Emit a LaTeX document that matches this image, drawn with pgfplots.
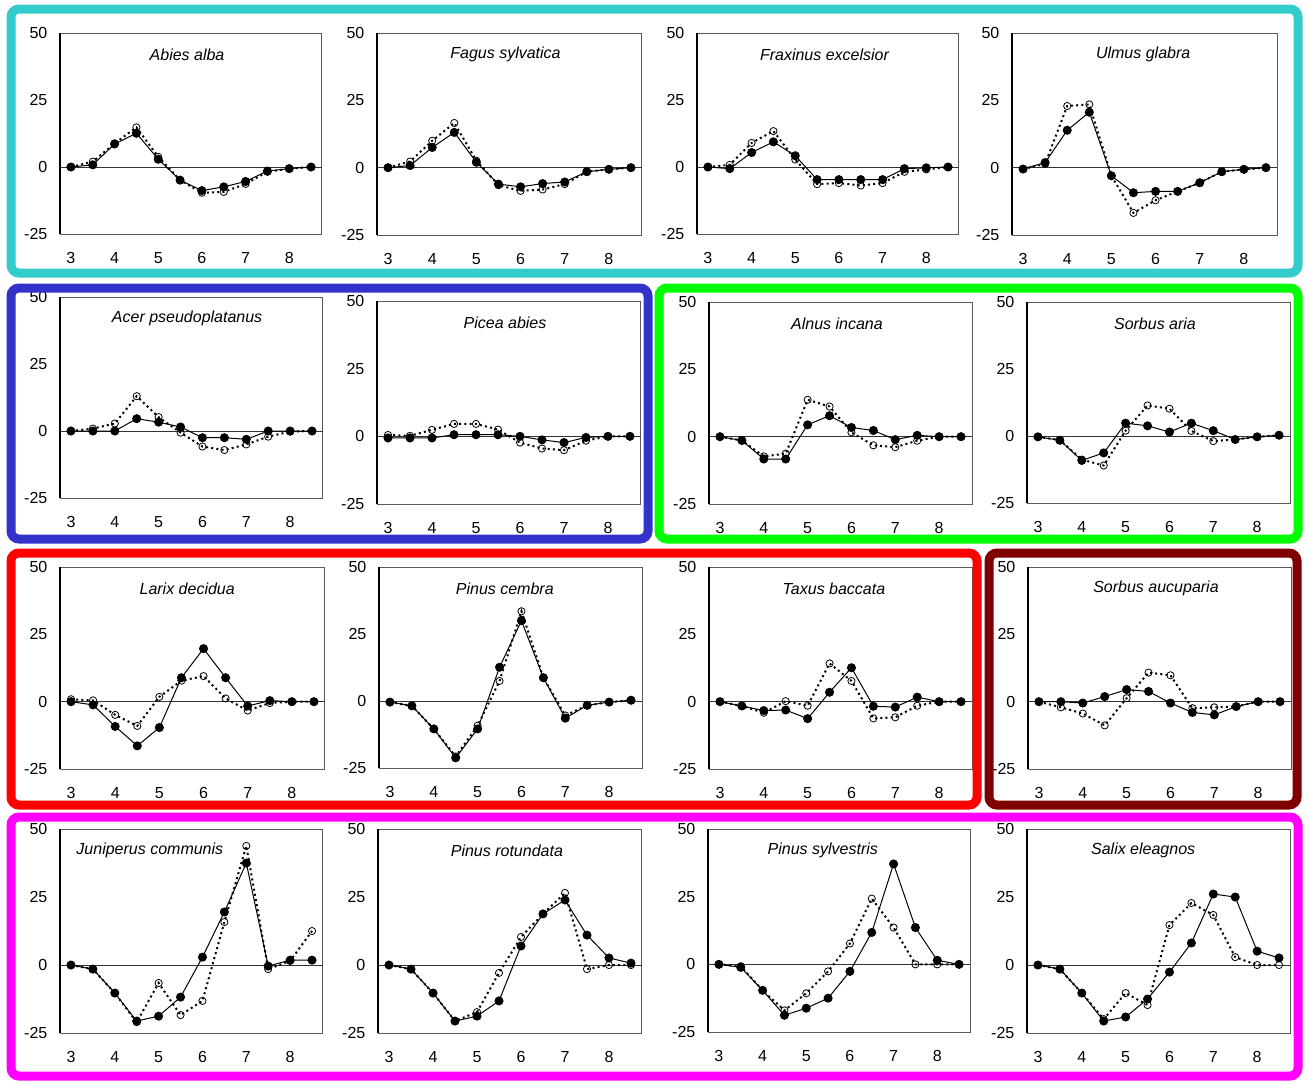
\documentclass[border=0pt]{standalone}
\usepackage{pgfplots}
\pgfplotsset{compat=1.18}
\usepackage{pgfplotstable}
\usepackage{fontspec}
\setmainfont{Liberation Sans}
\definecolor{cyanbox}{RGB}{51,204,204}
\definecolor{bluebox}{RGB}{51,51,204}
\definecolor{greenbox}{RGB}{0,255,0}
\definecolor{redbox}{RGB}{255,0,0}
\definecolor{darkredbox}{RGB}{128,0,0}
\definecolor{magentabox}{RGB}{255,0,255}

\pgfplotstableread{
x f o
3 0 0
3.5 0.8 2
4 8.6 8.8
4.5 12.6 14.8
5 2.9 3.8
5.5 -4.9 -4.9
6 -8.8 -9.6
6.5 -7.4 -9.3
7 -5.4 -6.3
7.5 -1.5 -1.8
8 -0.6 -0.6
8.5 0 0
}\tAbies
\pgfplotstableread{
x f o
3 0 0
3.5 0.8 2.3
4 7.5 10
4.5 13.1 16.6
5 2 2.6
5.5 -6.1 -6.5
6 -7.1 -8.6
6.5 -5.9 -8.1
7 -5.3 -6.1
7.5 -1.5 -1.5
8 -0.6 -0.6
8.5 0 0
}\tFagus
\pgfplotstableread{
x f o
3 0 0
3.5 -0.6 0.8
4 5.4 9
4.5 9.4 13.4
5 4.2 2.8
5.5 -4.7 -6.4
6 -4.7 -6
6.5 -4.7 -6.9
7 -4.7 -6
7.5 -0.6 -1.8
8 -0.3 -0.9
8.5 0 0
}\tFraxinus
\pgfplotstableread{
x f o
3 -0.5 -0.5
3.5 1.9 1.4
4 13.9 22.9
4.5 20.6 23.5
5 -3 -3
5.5 -9.3 -16.8
6 -8.8 -12.1
6.5 -8.8 -8.8
7 -5.6 -5.6
7.5 -1.5 -1.5
8 -0.6 -0.6
8.5 0 0
}\tUlmus
\pgfplotstableread{
x f o
3 0 0
3.5 0 0.9
4 0 2.8
4.5 4.6 13
5 3.3 5.2
5.5 1.5 -0.6
6 -2.5 -5.8
6.5 -2.5 -7.1
7 -3.1 -5
7.5 0 -2.1
8 0 -0.2
8.5 0 0
}\tAcer
\pgfplotstableread{
x f o
3 -0.6 0.5
3.5 -0.6 0.2
4 -0.6 2.4
4.5 0.6 4.6
5 0.6 4.6
5.5 0.6 2.5
6 0 -2.3
6.5 -1.3 -4.5
7 -2.3 -5.1
7.5 -0.4 -1.6
8 0 0
8.5 0 0
}\tPicea
\pgfplotstableread{
x f o
3 0 0
3.5 -1.4 -1.4
4 -8.3 -7.3
4.5 -8.3 -6.3
5 4.4 13.7
5.5 7.8 11.2
6 3.4 1.6
6.5 2.3 -3.2
7 -1.1 -3.9
7.5 0.5 -1.5
8 0 0
8.5 0 0
}\tAlnus
\pgfplotstableread{
x f o
3 -0.3 -0.3
3.5 -1.6 -1.5
4 -9.1 -8.8
4.5 -6.3 -11
5 4.8 2
5.5 3.8 11.4
6 1.5 10.2
6.5 4.8 1.9
7 2 -1.9
7.5 -1.3 -1.3
8 -0.3 -0.3
8.5 0.3 0.3
}\tSorbusAria
\pgfplotstableread{
x f o
3 0 0.9
3.5 -1.2 0.5
4 -9.2 -4.9
4.5 -16.4 -9
5 -9.6 1.8
5.5 8.9 7.8
6 19.7 9.5
6.5 8.9 1.2
7 -1.6 -3.3
7.5 0.4 -0.5
8 0 0
8.5 0 0
}\tLarix
\pgfplotstableread{
x f o
3 -0.4 -0.4
3.5 -1.8 -1.8
4 -10.4 -10.4
4.5 -21.2 -20.7
5 -10.4 -9.2
5.5 12.6 7.5
6 30 33.5
6.5 8.7 8.7
7 -6.4 -5.4
7.5 -1.6 -1.6
8 -0.4 -0.4
8.5 0.3 0.3
}\tCembra
\pgfplotstableread{
x f o
3 0 0
3.5 -1.6 -1.6
4 -3.3 -4.1
4.5 -3.1 0.2
5 -6.3 -1.5
5.5 3.5 14.2
6 12.6 7.7
6.5 -1.7 -6.2
7 -2 -5.8
7.5 1.7 -1.5
8 0 0
8.5 0 0
}\tTaxus
\pgfplotstableread{
x f o
3 0 0
3.5 0 -2.1
4 -0.5 -4.4
4.5 1.9 -8.8
5 4.5 1.3
5.5 3.8 10.8
6 -0.5 9.8
6.5 -4 -2.4
7 -4.9 -2.1
7.5 -1.8 -1.8
8 0 0
8.5 0 0
}\tAucuparia
\pgfplotstableread{
x f o
3 0 0
3.5 -1.5 -1.5
4 -10.3 -10.3
4.5 -20.6 -21
5 -18.8 -6.6
5.5 -11.8 -18.4
6 2.9 -13.2
6.5 19.5 15.8
7 37.5 43.8
7.5 -0.4 -1.5
8 1.8 1.5
8.5 1.8 12.5
}\tJuniperus
\pgfplotstableread{
x f o
3 0 0
3.5 -1.5 -1.5
4 -10.3 -10.3
4.5 -20.6 -20.6
5 -18.8 -17.3
5.5 -13.2 -2.9
6 7 10.3
6.5 18.8 18.8
7 23.9 26.5
7.5 11 -1.5
8 2.6 0
8.5 0.7 0
}\tRotundata
\pgfplotstableread{
x f o
3 0 0
3.5 -1.1 -0.7
4 -9.6 -9.6
4.5 -18.8 -17
5 -16.2 -10.7
5.5 -12.5 -2.6
6 -2.6 7.7
6.5 11.8 24.3
7 37.1 13.6
7.5 13.6 0
8 1.5 0
8.5 0 0
}\tSylvestris
\pgfplotstableread{
x f o
3 0 0
3.5 -1.5 -1.5
4 -10.3 -10.3
4.5 -20.6 -19.9
5 -19.1 -10.3
5.5 -12.5 -14.7
6 -2.6 14.7
6.5 8.1 22.8
7 26.1 18.4
7.5 25 2.9
8 5.1 0
8.5 2.6 0
}\tSalix

\pgfplotsset{
  panelstyle/.style={
    scale only axis,
    xmin=2.75, xmax=8.75, ymin=-25, ymax=50,
    xtick={3,4,5,6,7,8}, ytick={-25,0,25,50},
    major tick style={draw=none}, minor tick style={draw=none},
    axis line style={black!65, line width=0.5pt},
    tick label style={font=\fontsize{8}{9.6}\selectfont},
    xticklabel style={yshift=-5.8pt},
    yticklabel style={xshift=-2.8pt},
    /pgf/number format/assume math mode=true,
    clip=false,
  },
  fillser/.style={black, line width=0.5pt, mark=*, mark size=2pt, mark options={solid, fill=black}},
  openser/.style={black, line width=1pt, dash pattern=on 1pt off 1.6pt, mark=o, mark size=1.8pt, mark options={solid, fill=white, line width=0.4pt}},
}

\newcommand{\panel}[7]{%
  \pgfmathsetmacro\pL{#1*0.5}\pgfmathsetmacro\pB{-#4*0.5}%
  \pgfmathsetmacro\pW{(#3-#1)*0.5}\pgfmathsetmacro\pH{(#4-#2)*0.5}%
  \begin{axis}[panelstyle, at={(\pL pt,\pB pt)}, anchor=south west, width=\pW pt, height=\pH pt]
    \draw[black!80, line width=0.5pt] (axis cs:2.75,0) -- (axis cs:8.75,0);
    \addplot[openser] table[x=x,y=o] {#7};
    \addplot[fillser] table[x=x,y=f] {#7};
    \draw[black, line width=0.6pt] (rel axis cs:0,0) -- (rel axis cs:0,1);
    \node[font=\itshape\fontsize{8}{9.6}\selectfont] at (axis cs:#6,42) {#5};
  \end{axis}}

\begin{document}
\begin{tikzpicture}
\path[use as bounding box] (0pt,0pt) rectangle (653pt,-542pt);
% row 1
\panel{60}{33}{322}{234}{Abies alba}{5.66}{\tAbies}
\panel{377}{33}{642}{235}{Fagus sylvatica}{5.66}{\tFagus}
\panel{697}{33}{959}{234}{Fraxinus excelsior}{5.67}{\tFraxinus}
\panel{1012}{33}{1277}{235}{Ulmus glabra}{5.72}{\tUlmus}
% row 2
\panel{60}{297}{323}{498}{Acer pseudoplatanus}{5.65}{\tAcer}
\panel{377}{301}{641}{504}{Picea abies}{5.66}{\tPicea}
\panel{709}{302}{972}{504}{Alnus incana}{5.67}{\tAlnus}
\panel{1027}{302}{1290}{503}{Sorbus aria}{5.67}{\tSorbusAria}
% row 3
\panel{60}{567}{325}{769}{Larix decidua}{5.63}{\tLarix}
\panel{379}{567}{642}{768}{Pinus cembra}{5.62}{\tCembra}
\panel{709}{567}{972}{769}{Taxus baccata}{5.6}{\tTaxus}
\panel{1028}{567}{1291}{769}{Sorbus aucuparia}{5.67}{\tAucuparia}
% row 4
\panel{60}{829}{323}{1033}{Juniperus communis}{4.8}{\tJuniperus}
\panel{378}{829}{642}{1033}{Pinus rotundata}{5.68}{\tRotundata}
\panel{708}{829}{970}{1032}{Pinus sylvestris}{5.38}{\tSylvestris}
\panel{1027}{829}{1290}{1033}{Salix eleagnos}{5.4}{\tSalix}
% group frames
\begin{scope}[line width=4.5pt, rounded corners=4pt]
\draw[cyanbox] (5.5pt,-4.5pt) rectangle (649pt,-136.5pt);
\draw[bluebox] (5.5pt,-144pt) rectangle (324pt,-269.5pt);
\draw[greenbox] (329.5pt,-144pt) rectangle (649pt,-269.5pt);
\draw[redbox] (5.5pt,-276.5pt) rectangle (488.5pt,-402.5pt);
\draw[darkredbox] (494.5pt,-276.5pt) rectangle (648.5pt,-402.5pt);
\draw[magentabox] (5.5pt,-408.5pt) rectangle (649pt,-538pt);
\end{scope}
\end{tikzpicture}
\end{document}
